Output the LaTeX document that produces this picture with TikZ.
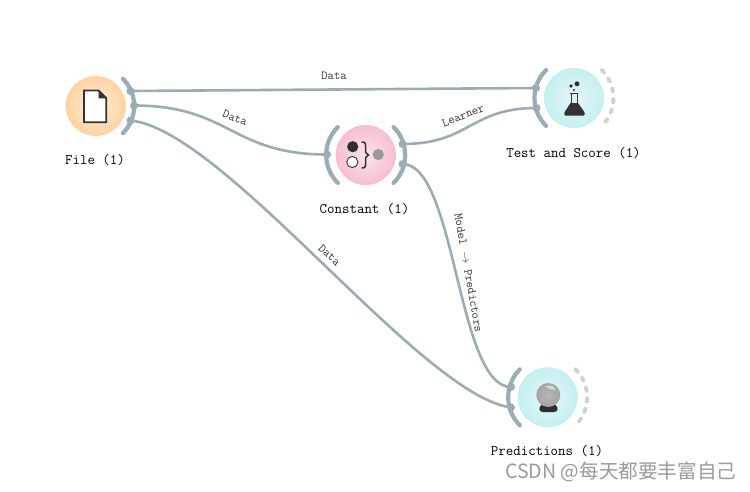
\documentclass[tikz,border=0pt]{standalone}
\usepackage{fontspec}
\newfontfamily\cjkwm{Noto Sans CJK SC}
\definecolor{linkc}{HTML}{9CACB4}
\definecolor{dashc}{HTML}{CDD3D5}
\definecolor{icond}{HTML}{333333}
\definecolor{wmc}{HTML}{9A9A9A}
\definecolor{fileIn}{HTML}{FFEFDC}
\definecolor{fileOut}{HTML}{FFD2A2}
\definecolor{constIn}{HTML}{FBE3EC}
\definecolor{constOut}{HTML}{F8BDD2}
\definecolor{testIn}{HTML}{E6F5F7}
\definecolor{testOut}{HTML}{C4F0F1}
\tikzset{
  widget/.style={circle,draw=none,minimum size=60pt,inner sep=0pt},
  fileW/.style={widget,inner color=fileIn,outer color=fileOut},
  constW/.style={widget,inner color=constIn,outer color=constOut},
  testW/.style={widget,inner color=testIn,outer color=testOut},
  chanarc/.style={draw=linkc,line width=4.2pt,line cap=round},
  dasharc/.style={draw=dashc,line width=4pt,line cap=round,dash pattern=on 3pt off 7.7pt},
  linkline/.style={draw=linkc,line width=2.6pt},
  portdot/.style={circle,fill=linkc,draw=none,minimum size=8pt,inner sep=0pt},
  wname/.style={font=\ttfamily\fontsize{14.5}{16}\selectfont,text=black,inner sep=0pt},
  elabel/.style={font=\ttfamily\fontsize{12.3}{14}\selectfont,text=black!80,inner sep=0pt},
}
\begin{document}
\begin{tikzpicture}[x=1pt,y=1pt]
\useasboundingbox (0,-491) rectangle (750,0);
\fill[white] (0,-491) rectangle (750,0);

% widgets
\node[fileW]  (file)  at (95.7,-106) {};
\node[constW] (const) at (365.7,-155) {};
\node[testW]  (test)  at (574,-98) {};
\node[testW]  (pred)  at (547.7,-397.3) {};

% ports
\node[portdot] (fo1) at (130.5,-91) {};
\node[portdot] (fo2) at (134,-105.5) {};
\node[portdot] (fo3) at (130.5,-120.5) {};
\node[portdot] (ci)  at (327,-154.5) {};
\node[portdot] (co1) at (402.5,-144) {};
\node[portdot] (co2) at (402.5,-164) {};
\node[portdot] (ti1) at (536,-88) {};
\node[portdot] (ti2) at (536.5,-108) {};
\node[portdot] (pi1) at (511,-387) {};
\node[portdot] (pi2) at (511,-407.5) {};

% links
\path[linkline] (fo1.center) -- (ti1.center);
\path[linkline] (fo2.center) .. controls (230,-105.5) and (231,-154.5) .. (ci.center);
\path[linkline] (fo3.center) .. controls (225,-130) and (420,-395) .. (pi2.center);
\path[linkline] (co1.center) .. controls (470,-144) and (470,-108) .. (ti2.center);
\path[linkline] (co2.center) .. controls (456,-164) and (457,-387) .. (pi1.center);

% channel arcs
\path[chanarc] (file.center)  ++(45:38.5pt)  arc (45:-45:38.5pt);
\path[chanarc] (const.center) ++(135:39.5pt) arc (135:225:39.5pt);
\path[chanarc] (const.center) ++(45:39.5pt)  arc (45:-45:39.5pt);
\path[chanarc] (test.center)  ++(135:39.5pt) arc (135:225:39.5pt);
\path[chanarc] (pred.center)  ++(135:39.5pt) arc (135:225:39.5pt);
\path[dasharc] (test.center)  ++(45:39.5pt)  arc (45:-47:39.5pt);
\path[dasharc] (pred.center)  ++(45:39.5pt)  arc (45:-47:39.5pt);

% file icon
\fill[white] (84,-90.5) -- (98.5,-90.5) -- (106,-98) -- (106,-122) -- (84,-122) -- cycle;
\draw[icond,line width=1.8pt,line join=miter] (84,-90.5) -- (98.5,-90.5) -- (106.3,-98.3) -- (106.3,-122.3) -- (84,-122.3) -- cycle;
\fill[icond] (98.5,-90.5) -- (106.3,-98.3) -- (98.5,-98.3) -- cycle;

% constant icon
\fill[icond!90!black] (352.7,-146.7) circle (5.6pt);
\draw[icond,fill=white,line width=0.9pt] (352.3,-162) circle (5.6pt);
\draw[icond,line width=1.5pt,line cap=round] (362,-142) .. controls (366,-142) and (365.5,-144) .. (365.5,-148)
  .. controls (365.5,-152) and (365.5,-154.5) .. (368.5,-155)
  .. controls (365.5,-155.5) and (365.5,-158) .. (365.5,-162)
  .. controls (365.5,-166) and (366,-168) .. (362,-168);
\fill[black!40] (378.3,-154.5) circle (5.6pt);

% flask icon
\fill[icond] (577,-83.8) circle (2.5pt);
\fill[icond] (571,-86) circle (1.8pt);
\fill[icond] (574,-90) circle (1.1pt);
\fill[icond] (565,-115.5) .. controls (564,-113.5) .. (565,-111.5) -- (570.5,-103) -- (578,-103) -- (584,-111.5) .. controls (585,-113.5) .. (584,-115.5) -- cycle;
\draw[icond,line width=1.4pt] (570.2,-93.5) -- (578.2,-93.5);
\draw[icond,line width=1.4pt] (571.2,-93.5) -- (571.2,-104);
\draw[icond,line width=1.4pt] (577.2,-93.5) -- (577.2,-104);

% crystal ball icon
\fill[icond!90!black] (541.5,-405) .. controls (538.5,-407) and (538.5,-412) .. (543,-412) -- (554,-412) .. controls (558.5,-412) and (558.5,-407) .. (555.5,-405) -- cycle;
\shade[inner color=black!28,outer color=black!36] (548.3,-395) circle (12pt);
\draw[white!90!black,line width=1.1pt,line cap=round] (546,-386.5) arc (100:40:9.5pt);
\fill[white!85!black] (551,-387.5) ellipse (3pt and 2pt);

% widget names
\node[wname] (nfile)  at (95,-160) {File (1)};
\node[wname] (nconst) at (364.5,-209.5) {Constant (1)};
\node[wname] (ntest)  at (573.5,-153.5) {Test and Score (1)};
\node[wname] (npred)  at (547,-451) {Predictions (1)};

% link labels
\node[elabel] (l1) at (334,-76) {Data};
\node[elabel,rotate=-21] (l2) at (235,-118) {Data};
\node[elabel,rotate=22] (l3) at (463,-115.5) {Learner};
\node[elabel,rotate=-43] (l4) at (329.5,-255) {Data};
\node[elabel,rotate=-80] (l5) at (468.5,-273) {Model $\rightarrow$ Predictors};

% watermark
\node[inner sep=0pt,anchor=west,text=wmc,font=\cjkwm\fontsize{19.6}{22}\selectfont] (wm) at (505,-472) {CSDN @每天都要丰富自己};
\end{tikzpicture}
\end{document}
